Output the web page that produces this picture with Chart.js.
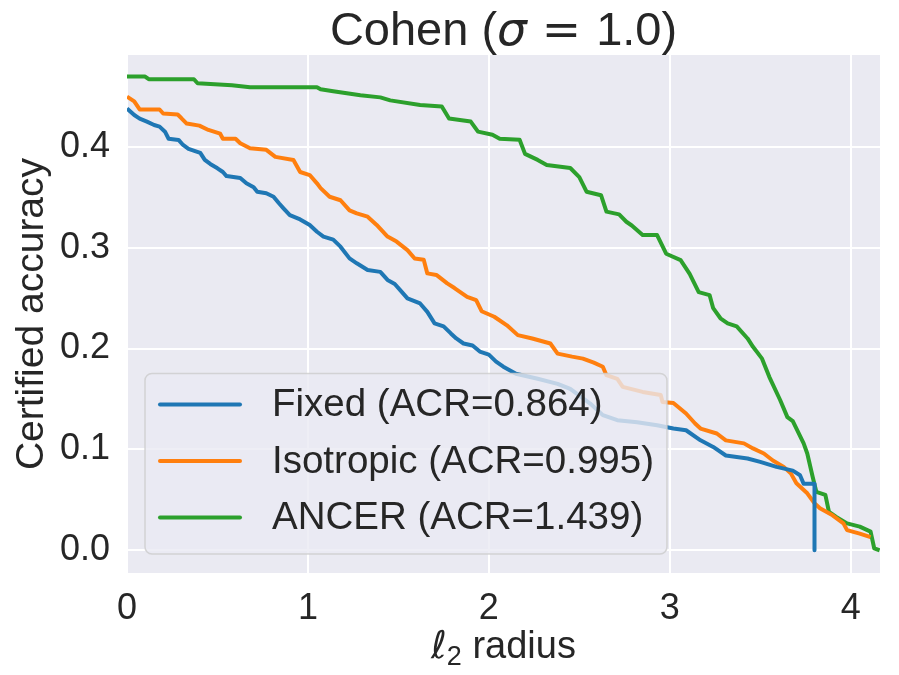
<!DOCTYPE html>
<html>
<head>
<meta charset="utf-8">
<script src="https://cdn.jsdelivr.net/npm/chart.js@4.4.1/dist/chart.umd.min.js"></script>
<style>
  html, body { margin: 0; padding: 0; background: #ffffff; }
  #wrap { width: 899px; height: 675px; }
</style>
</head>
<body>
<div id="wrap"><canvas id="chart-cert" width="899" height="675"></canvas></div>
<script>
// certified accuracy vs l2 radius
const fixedRadius = [0, 0.04, 0.07, 0.11, 0.15, 0.18, 0.21, 0.23, 0.285, 0.31,
  0.34, 0.405, 0.43, 0.46, 0.5, 0.53, 0.55, 0.626, 0.66, 0.7,
  0.72, 0.77, 0.81, 0.84, 0.865, 0.9, 0.957, 1.01, 1.05, 1.086,
  1.14, 1.18, 1.23, 1.27, 1.33, 1.40, 1.44, 1.48, 1.51, 1.55,
  1.62, 1.66, 1.70, 1.75, 1.79, 1.82, 1.86, 1.91, 1.95, 2.0,
  2.04, 2.08, 2.15, 2.27, 2.38, 2.45, 2.56, 2.63, 2.71, 2.82,
  2.93, 3.02, 3.09, 3.17, 3.24, 3.31, 3.43, 3.50, 3.59, 3.68,
  3.72, 3.74, 3.80, 3.80];
const fixedAcc = [0.438, 0.4315, 0.428, 0.425, 0.4216, 0.42, 0.415, 0.408, 0.4068, 0.4018,
  0.398, 0.394, 0.387, 0.383, 0.3787, 0.375, 0.371, 0.369, 0.3638, 0.36,
  0.3555, 0.354, 0.3505, 0.344, 0.339, 0.3323, 0.328, 0.3224, 0.3158, 0.311,
  0.308, 0.301, 0.2894, 0.2845, 0.2778, 0.276, 0.268, 0.264, 0.258, 0.2497,
  0.2447, 0.2364, 0.225, 0.222, 0.215, 0.21, 0.205, 0.203, 0.197, 0.194,
  0.187, 0.182, 0.175, 0.17, 0.165, 0.16, 0.1455, 0.134, 0.129, 0.127,
  0.124, 0.1207, 0.119, 0.109, 0.1025, 0.094, 0.091, 0.0876, 0.0827, 0.079,
  0.0744, 0.066, 0.066, 0.0];

const isoRadius = [0, 0.04, 0.07, 0.18, 0.2, 0.28, 0.3, 0.33, 0.4, 0.45,
  0.515, 0.53, 0.6, 0.626, 0.68, 0.77, 0.82, 0.92, 0.957, 1.01,
  1.05, 1.07, 1.12, 1.18, 1.23, 1.27, 1.33, 1.38, 1.44, 1.49,
  1.55, 1.59, 1.64, 1.66, 1.71, 1.77, 1.81, 1.88, 1.93, 1.96,
  2.03, 2.10, 2.16, 2.24, 2.34, 2.38, 2.46, 2.52, 2.58, 2.63,
  2.65, 2.71, 2.74, 2.85, 2.95, 2.96, 3.02, 3.09, 3.14, 3.17,
  3.26, 3.31, 3.41, 3.46, 3.52, 3.57, 3.63, 3.67, 3.70, 3.76,
  3.80, 3.83, 3.90, 3.96, 3.98, 4.05, 4.11];
const isoAcc = [0.4497, 0.445, 0.437, 0.437, 0.433, 0.432, 0.4285, 0.423, 0.421, 0.4167,
  0.413, 0.408, 0.408, 0.4035, 0.3985, 0.397, 0.39, 0.387, 0.375, 0.372,
  0.3638, 0.359, 0.3505, 0.347, 0.337, 0.334, 0.3307, 0.3225, 0.311, 0.306,
  0.2976, 0.2893, 0.288, 0.2745, 0.273, 0.2646, 0.26, 0.2513, 0.248, 0.237,
  0.2315, 0.223, 0.2133, 0.21, 0.205, 0.195, 0.192, 0.19, 0.186, 0.182,
  0.1736, 0.17, 0.162, 0.157, 0.154, 0.147, 0.146, 0.1356, 0.1257, 0.1207,
  0.1158, 0.109, 0.106, 0.101, 0.096, 0.089, 0.0827, 0.076, 0.0665, 0.0565,
  0.0466, 0.0417, 0.0347, 0.0267, 0.02, 0.0165, 0.013];

const ancerRadius = [0, 0.10, 0.12, 0.37, 0.39, 0.58, 0.68, 1.05, 1.07, 1.14,
  1.29, 1.40, 1.455, 1.62, 1.74, 1.78, 1.90, 1.94, 2.02, 2.06,
  2.17, 2.20, 2.27, 2.32, 2.45, 2.5, 2.54, 2.62, 2.65, 2.72,
  2.76, 2.79, 2.85, 2.93, 2.98, 3.06, 3.11, 3.16, 3.22, 3.24,
  3.28, 3.32, 3.37, 3.43, 3.46, 3.51, 3.55, 3.61, 3.65, 3.68,
  3.74, 3.76, 3.79, 3.81, 3.86, 3.88, 3.92, 3.98, 4.05, 4.11,
  4.13, 4.16];
const ancerAcc = [0.4696, 0.4696, 0.467, 0.467, 0.463, 0.461, 0.459, 0.459, 0.457, 0.455,
  0.451, 0.449, 0.446, 0.4415, 0.44, 0.428, 0.425, 0.415, 0.412, 0.408,
  0.407, 0.393, 0.387, 0.382, 0.379, 0.37, 0.3555, 0.352, 0.3357, 0.333,
  0.3257, 0.322, 0.3125, 0.3125, 0.294, 0.2877, 0.274, 0.256, 0.253, 0.24,
  0.23, 0.225, 0.222, 0.21, 0.2017, 0.19, 0.172, 0.149, 0.132, 0.128,
  0.106, 0.096, 0.0727, 0.058, 0.055, 0.038, 0.033, 0.0267, 0.0235, 0.0185,
  0.002, 0.0];

const seriesNames = ["Fixed (ACR=0.864)", "Isotropic (ACR=0.995)", "ANCER (ACR=1.439)"];
const xTicks = [0, 1, 2, 3, 4];
const yTicks = [0.0, 0.1, 0.2, 0.3, 0.4];
const xLimits = [0, 4.162];
const yLimits = [-0.0225, 0.491];

const SANS = "'Liberation Sans', Arial, sans-serif";
const MATH = "'DejaVu Sans', sans-serif";
const INK = "#262626";

function toPoints(xs, ys) {
  return xs.map((x, i) => ({ x: x, y: ys[i] }));
}

// draw a row of text pieces with different fonts, centred on cx
function drawRuns(ctx, runs, cx, baseline) {
  let total = 0;
  runs.forEach((r) => { ctx.font = r.font; total += ctx.measureText(r.text).width; });
  let x = cx - total / 2;
  runs.forEach((r) => {
    ctx.font = r.font;
    ctx.fillText(r.text, x, baseline + (r.dy || 0));
    x += ctx.measureText(r.text).width;
  });
}

const decorations = {
  id: "decorations",
  beforeDraw(chart) {
    const { ctx, chartArea: a } = chart;
    ctx.save();
    ctx.fillStyle = "#eaeaf2";
    ctx.fillRect(a.left, a.top, a.right - a.left, a.bottom - a.top);
    ctx.restore();
  },
  afterDatasetsDraw(chart) {
    // matplotlib-style legend inside the axes, lower left, semi-transparent
    const { ctx, chartArea: a } = chart;
    const sets = chart.data.datasets;
    ctx.save();
    ctx.font = "38.5px " + SANS;
    const textW = Math.max(...sets.map((d) => ctx.measureText(d.label).width));
    const rowH = 56.5;
    const left = a.left + 18;
    const bottom = a.bottom - 19;
    const w = 14 + 80 + 32 + textW + 14;
    const h = rowH * sets.length + 11;
    const top = bottom - h;
    ctx.beginPath();
    ctx.roundRect(left, top, w, h, 7);
    ctx.fillStyle = "rgba(234,234,242,0.8)";
    ctx.fill();
    ctx.lineWidth = 1.5;
    ctx.strokeStyle = "rgba(204,204,204,0.8)";
    ctx.stroke();
    sets.forEach((d, i) => {
      const y = top + 31 + i * rowH;
      ctx.beginPath();
      ctx.moveTo(left + 15, y);
      ctx.lineTo(left + 95, y);
      ctx.lineWidth = 4;
      ctx.lineCap = "round";
      ctx.strokeStyle = d.borderColor;
      ctx.stroke();
      ctx.fillStyle = INK;
      ctx.textBaseline = "middle";
      ctx.fillText(d.label, left + 127, y + 1);
    });
    ctx.restore();
  },
  afterDraw(chart) {
    const { ctx, chartArea: a } = chart;
    const cx = (a.left + a.right) / 2;
    ctx.save();
    ctx.fillStyle = INK;
    ctx.textBaseline = "alphabetic";
    drawRuns(ctx, [
      { text: "Cohen (", font: "47px " + SANS },
      { text: "\u03c3", font: "italic 47px " + MATH },
      { text: " = ", font: "47px " + MATH },
      { text: "1.0)", font: "47px " + SANS },
    ], cx, 45);
    drawRuns(ctx, [
      { text: "\u2113", font: "italic 38px " + MATH },
      { text: "2", font: "27px " + SANS, dy: 7 },
      { text: " radius", font: "38px " + SANS },
    ], cx, 658);
    ctx.translate(43, (a.top + a.bottom) / 2);
    ctx.rotate(-Math.PI / 2);
    ctx.font = "39px " + SANS;
    ctx.textAlign = "center";
    ctx.fillText("Certified accuracy", 0, 0);
    ctx.restore();
  },
};

const colors = ["#1f77b4", "#ff7f0e", "#2ca02c"];
const series = [
  toPoints(fixedRadius, fixedAcc),
  toPoints(isoRadius, isoAcc),
  toPoints(ancerRadius, ancerAcc),
];

new Chart(document.getElementById("chart-cert"), {
  type: "line",
  data: {
    datasets: series.map((pts, i) => ({
      label: seriesNames[i],
      data: pts,
      borderColor: colors[i],
      backgroundColor: colors[i],
      borderWidth: 4,
      pointRadius: 0,
      tension: 0,
      fill: false,
      borderJoinStyle: "round",
    })),
  },
  options: {
    responsive: false,
    animation: false,
    devicePixelRatio: 1,
    layout: { padding: { top: 55, right: 19, left: 0, bottom: 0 } },
    scales: {
      x: {
        type: "linear",
        min: xLimits[0],
        max: xLimits[1],
        afterFit: (s) => { s.height = 102; },
        afterBuildTicks: (s) => { s.ticks = xTicks.map((v) => ({ value: v })); },
        ticks: { padding: 14, color: INK, font: { size: 36, family: SANS }, callback: (v) => String(v) },
        grid: { color: "#ffffff", lineWidth: 2, drawTicks: false },
        border: { display: false },
      },
      y: {
        type: "linear",
        min: yLimits[0],
        max: yLimits[1],
        afterFit: (s) => { s.width = 127; },
        afterBuildTicks: (s) => { s.ticks = yTicks.map((v) => ({ value: v })); },
        ticks: { padding: 17, color: INK, font: { size: 36, family: SANS }, callback: (v) => v.toFixed(1) },
        grid: { color: "#ffffff", lineWidth: 2, drawTicks: false },
        border: { display: false },
      },
    },
    plugins: {
      legend: { display: false },
      tooltip: { enabled: false },
      title: { display: false },
    },
  },
  plugins: [decorations],
});
</script>
</body>
</html>
